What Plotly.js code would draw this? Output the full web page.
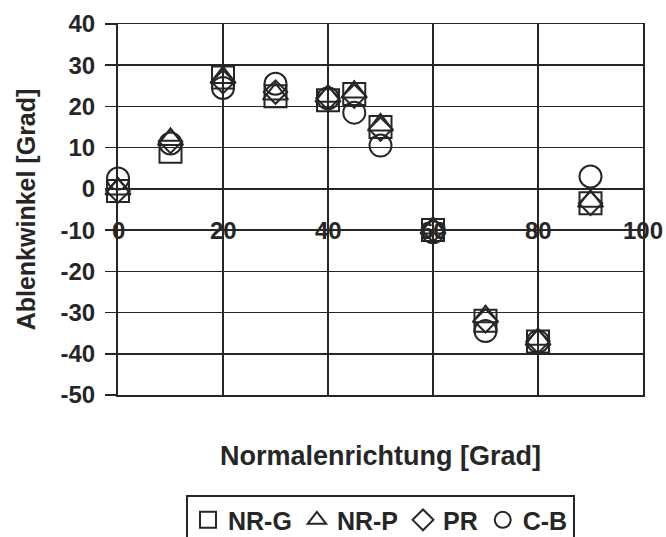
<!DOCTYPE html>
<html>
<head>
<meta charset="utf-8">
<script src="https://cdn.plot.ly/plotly-3.0.1.min.js"></script>
<style>html,body{margin:0;padding:0;background:#fff;}#chart{width:666px;height:537px;}</style>
</head>
<body>
<div id="chart"></div>
<script>
const xValues = [0, 10, 20, 30, 40, 45, 50, 60, 70, 80, 90];
const nrG = [-0.5, 9, 27, 22.5, 21.5, 23, 15, -10, -32, -37, -3.5];
const nrP = [0, 12, 27, 23, 22.5, 23.5, 15.5, -9.5, -31, -36.5, -3];
const pr  = [-0.5, 11.5, 26, 23.5, 22, 22.5, 14.5, -10, -32, -37, -3.5];
const cb  = [2.5, 11, 24.5, 25.5, 22, 18.5, 10.5, -10.5, -34.5, -37, 3];
const seriesNames = ['NR-G', 'NR-P', 'PR', 'C-B'];
const xTickVals = [0, 20, 40, 60, 80, 100];
const xTickLabels = ['0', '20', '40', '60', '80', '100'];
const yTickVals = [40, 30, 20, 10, 0, -10, -20, -30, -40, -50];
const yTickLabels = ['40', '30', '20', '10', '0', '-10', '-20', '-30', '-40', '-50'];
const xLabelRow = -10;

const FONT = '"Liberation Sans", Arial, sans-serif';
const INK = '#262626';
const symbols = ['square-open', 'triangle-up-open', 'diamond-open', 'circle-open'];
const sizes = [22, 22, 18, 22];
const allY = [nrG, nrP, pr, cb];

const traces = allY.map((ys, i) => ({
  type: 'scatter', mode: 'markers', name: seriesNames[i],
  x: xValues, y: ys,
  marker: {symbol: symbols[i], size: sizes[i], color: INK, line: {width: 2, color: INK}},
  cliponaxis: false
}));

const annotations = xTickVals.map((v, i) => ({
  x: v, y: xLabelRow, xref: 'x', yref: 'y', text: xTickLabels[i],
  showarrow: false, xanchor: 'center', yanchor: 'middle',
  font: {family: FONT, size: 24, color: INK, weight: 'bold'}
}));

const layout = {
  width: 666, height: 537,
  margin: {l: 118, r: 23, t: 24, b: 142, autoexpand: false},
  paper_bgcolor: '#fff', plot_bgcolor: '#fff',
  font: {family: FONT, size: 24, color: INK},
  showlegend: true,
  legend: {
    orientation: 'h', xref: 'paper', x: 0.5, xanchor: 'center',
    yref: 'container', y: 0.078, yanchor: 'top',
    bordercolor: INK, borderwidth: 2, bgcolor: '#fff',
    font: {family: FONT, size: 25, color: INK, weight: 'bold'},
    itemwidth: 30, tracegroupgap: 0
  },
  xaxis: {
    range: [0, 100], dtick: 20, tick0: 0,
    showgrid: true, gridcolor: INK, gridwidth: 1.5,
    showticklabels: false, ticks: '',
    showline: true, linecolor: INK, linewidth: 1.5, mirror: true,
    zeroline: false, automargin: false,
    title: {text: 'Normalenrichtung [Grad]', standoff: 50,
            font: {family: FONT, size: 27, color: INK, weight: 'bold'}}
  },
  yaxis: {
    range: [-50, 40], tickmode: 'array', tickvals: yTickVals, ticktext: yTickLabels,
    showgrid: true, gridcolor: INK, gridwidth: 1.5,
    ticks: 'outside', ticklen: 11, tickwidth: 1.5, tickcolor: INK,
    ticklabelstandoff: 5,
    showline: true, linecolor: INK, linewidth: 2, mirror: true,
    zeroline: false, automargin: false,
    tickfont: {family: FONT, size: 24, color: INK, weight: 'bold'},
    title: {text: 'Ablenkwinkel [Grad]', standoff: 18,
            font: {family: FONT, size: 25, color: INK, weight: 'bold'}}
  },
  annotations: annotations
};

Plotly.newPlot('chart', traces, layout, {displayModeBar: false, staticPlot: true});
</script>
</body>
</html>
